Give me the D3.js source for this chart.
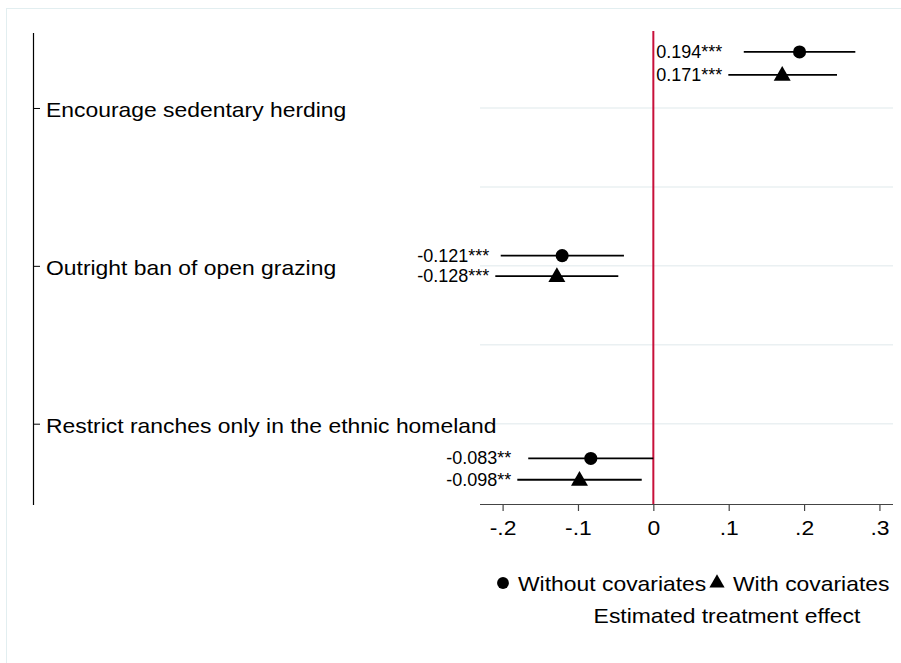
<!DOCTYPE html>
<html>
<head>
<meta charset="utf-8">
<script src="https://cdn.jsdelivr.net/npm/d3@7"></script>
<style>
  html, body { margin: 0; padding: 0; background: #fff; }
  svg { display: block; font-family: "Liberation Sans", Arial, Helvetica, sans-serif; }
</style>
</head>
<body>
<svg id="chart" width="901" height="663"></svg>
<script>
// Policy options and their row positions on the vertical axis
const categories = ["Encourage sedentary herding", "Outright ban of open grazing", "Restrict ranches only in the ethnic homeland"];
const categoryRows = [1, 3, 5];
const gridRows = [1, 2, 3, 4, 5];

// Estimates without covariates (circles)
const noCovEst = [0.194, -0.121, -0.083];
const noCovLow = [0.120, -0.2025, -0.166];
const noCovHigh = [0.268, -0.039, 0.000];
const noCovRows = [0.29, 2.87, 5.44];
const noCovLabels = ["0.194***", "-0.121***", "-0.083**"];

// Estimates with covariates (triangles)
const covEst = [0.171, -0.128, -0.098];
const covLow = [0.0995, -0.2097, -0.1805];
const covHigh = [0.2437, -0.0465, -0.0154];
const covRows = [0.58, 3.13, 5.71];
const covLabels = ["0.171***", "-0.128***", "-0.098**"];

// Horizontal axis ticks
const xTicks = [-0.2, -0.1, 0, 0.1, 0.2, 0.3];
const xTickLabels = ["-.2", "-.1", "0", ".1", ".2", ".3"];

const legendLabels = ["Without covariates", "With covariates"];
const xTitle = "Estimated treatment effect";

const FONT = "Liberation Sans, Arial, sans-serif";
const MAIN_SIZE = 21;
const WIDEN = 1.09;

const svg = d3.select("#chart");

const x = d3.scaleLinear().domain([-0.23, 0.318]).range([480, 893]);
const y = d3.scaleLinear().domain([0.05, 6.03]).range([33, 505]);

// slightly widen glyphs of the main text
function widen(sel) {
  sel.each(function () {
    const w = this.getComputedTextLength();
    d3.select(this).attr("textLength", w * WIDEN).attr("lengthAdjust", "spacingAndGlyphs");
  });
}

// outer frame
svg.append("rect")
  .attr("x", 6.5).attr("y", 8.5).attr("width", 920).attr("height", 700)
  .attr("fill", "none").attr("stroke", "#e2eef0").attr("stroke-width", 1);

// grid lines
svg.append("g").selectAll("line").data(gridRows).join("line")
  .attr("x1", x.range()[0]).attr("x2", x.range()[1])
  .attr("y1", d => y(d)).attr("y2", d => y(d))
  .attr("stroke", "#eaf0f2").attr("stroke-width", 1.5);

// vertical axis with labels to the right of the ticks
const yAxis = d3.axisRight(y)
  .tickValues(categoryRows)
  .tickFormat((d, i) => categories[i])
  .tickSize(7).tickPadding(6);
const yg = svg.append("g").attr("transform", "translate(33,0)").call(yAxis);
yg.select(".domain").attr("d", `M0.5,${y.range()[0]}V${y.range()[1]}`).attr("stroke", "#000").attr("stroke-width", 1.2);
yg.selectAll(".tick line").attr("stroke", "#000").attr("stroke-width", 1);
yg.selectAll(".tick text").attr("font-size", MAIN_SIZE).attr("fill", "#000")
  .attr("font-family", FONT).attr("dy", "0.42em").call(widen);

// horizontal axis
const xAxis = d3.axisBottom(x)
  .tickValues(xTicks)
  .tickFormat((d, i) => xTickLabels[i])
  .tickSize(7).tickPadding(9);
const xg = svg.append("g").attr("transform", "translate(0,504)").call(xAxis);
xg.select(".domain").attr("d", `M${x.range()[0]},0.5H${x.range()[1]}`).attr("stroke", "#444").attr("stroke-width", 1.2);
xg.selectAll(".tick line").attr("stroke", "#444").attr("stroke-width", 1.2);
xg.selectAll(".tick text").attr("font-size", MAIN_SIZE).attr("fill", "#000")
  .attr("font-family", FONT).call(widen);

// reference line at zero
svg.append("line")
  .attr("x1", x(0)).attr("x2", x(0))
  .attr("y1", 31).attr("y2", 504)
  .attr("stroke", "#c8103a").attr("stroke-width", 2);

// value labels of each group end just left of the group's widest interval
const groupLabelEnd = d3.range(categories.length).map(i => x(Math.min(noCovLow[i], covLow[i])) - 6);

function drawSeries(est, low, high, rows, labels, symbolType, size) {
  const g = svg.append("g");
  const idx = d3.range(est.length);
  g.selectAll("line").data(idx).join("line")
    .attr("x1", i => x(low[i])).attr("x2", i => x(high[i]))
    .attr("y1", i => y(rows[i])).attr("y2", i => y(rows[i]))
    .attr("stroke", "#000").attr("stroke-width", 1.8);
  g.selectAll("path").data(idx).join("path")
    .attr("d", d3.symbol().type(symbolType).size(size))
    .attr("transform", i => `translate(${x(est[i])},${y(rows[i]) + (symbolType === d3.symbolTriangle ? 1 : 0)})`)
    .attr("fill", "#000");
  g.selectAll("text").data(idx).join("text")
    .attr("x", i => groupLabelEnd[i])
    .attr("y", i => y(rows[i]) + 6)
    .attr("text-anchor", "end")
    .attr("font-size", 18)
    .attr("fill", "#000")
    .text(i => labels[i]);
}

drawSeries(noCovEst, noCovLow, noCovHigh, noCovRows, noCovLabels, d3.symbolCircle, 135);
drawSeries(covEst, covLow, covHigh, covRows, covLabels, d3.symbolTriangle, 125);

// legend
const lg = svg.append("g");
lg.append("path").attr("d", d3.symbol().type(d3.symbolCircle).size(110)())
  .attr("transform", "translate(503,583)").attr("fill", "#000");
lg.append("text").attr("x", 518).attr("y", 591).attr("font-size", MAIN_SIZE).text(legendLabels[0]).call(widen);
lg.append("path").attr("d", d3.symbol().type(d3.symbolTriangle).size(100)())
  .attr("transform", "translate(717,583)").attr("fill", "#000");
lg.append("text").attr("x", 733).attr("y", 591).attr("font-size", MAIN_SIZE).text(legendLabels[1]).call(widen);

svg.append("text").attr("x", 727).attr("y", 623).attr("text-anchor", "middle")
  .attr("font-size", MAIN_SIZE).text(xTitle).call(widen);
</script>
</body>
</html>
